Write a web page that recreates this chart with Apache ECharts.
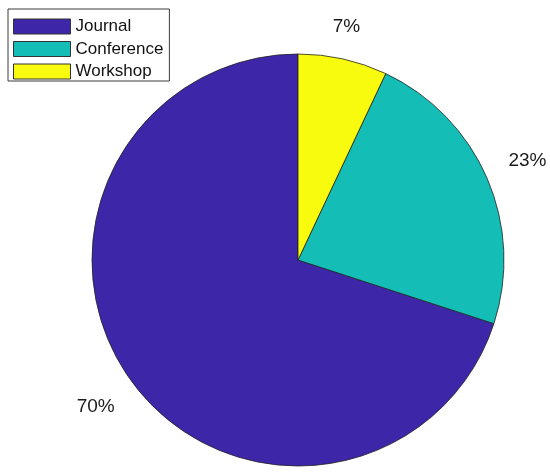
<!DOCTYPE html>
<html>
<head>
<meta charset="utf-8">
<script src="https://cdn.jsdelivr.net/npm/echarts@6/dist/echarts.min.js"></script>
<style>html,body{margin:0;padding:0;background:#fff}#c{width:550px;height:473px}</style>
</head>
<body>
<div id="c"></div>
<script>
const categories = ['Journal', 'Conference', 'Workshop'];
const values = [70, 23, 7];
const colors = ['#3e26a8', '#14bdb6', '#f9fb0e'];

const chart = echarts.init(document.getElementById('c'), null, {renderer: 'canvas'});
const FONT = '"Liberation Sans", Arial, sans-serif';
const pieData = categories.map((n, i) => ({name: n, value: values[i], itemStyle: {color: colors[i]}}));
const labelData = categories.map((n, i) => ({
  name: n, value: values[i],
  label: n === 'Workshop' ? {offset: [-6, 11]} : {}
}));
chart.setOption({
  animation: false,
  legend: {
    orient: 'vertical', left: 8, top: 9,
    padding: [9, 6, 1, 5],
    borderColor: '#3a3a3a', borderWidth: 1,
    itemWidth: 57, itemHeight: 15, itemGap: 5.5,
    selectedMode: false,
    textStyle: {fontFamily: FONT, fontSize: 17, color: '#111'},
    data: categories.map((n, i) => ({name: n, icon: 'rect', itemStyle: {color: colors[i], borderColor: '#333', borderWidth: 1}}))
  },
  series: [
    {
      type: 'pie', center: [298, 260], radius: [0, 206],
      startAngle: 90, clockwise: false,
      avoidLabelOverlap: false,
      label: {show: false}, labelLine: {show: false},
      emphasis: {disabled: true},
      itemStyle: {borderColor: '#222', borderWidth: 0.8},
      data: pieData
    },
    {
      type: 'pie', center: [298, 260], radius: [237, 257],
      startAngle: 90, clockwise: false, silent: true,
      avoidLabelOverlap: false,
      itemStyle: {color: 'rgba(0,0,0,0)'},
      emphasis: {disabled: true},
      labelLine: {show: false},
      label: {show: true, position: 'inside', fontFamily: FONT, fontSize: 19, color: '#1a1a1a',
        formatter: p => p.value + '%'},
      data: labelData
    }
  ]
});
</script>
</body>
</html>
